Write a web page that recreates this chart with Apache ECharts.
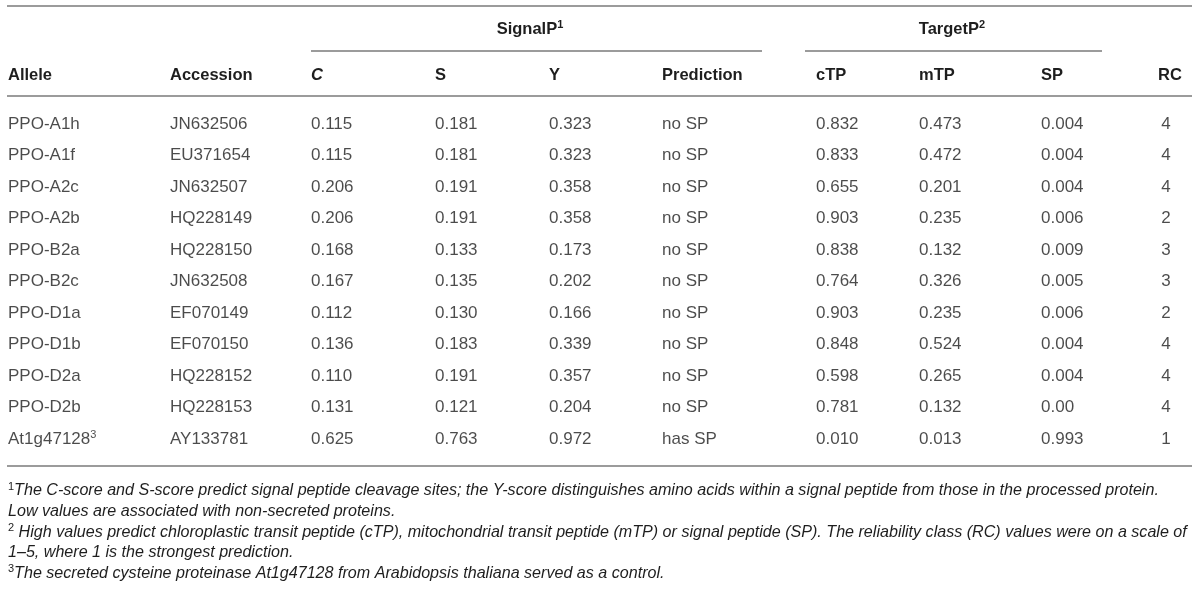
<!DOCTYPE html>
<html>
<head>
<meta charset="utf-8">
<script src="https://cdn.jsdelivr.net/npm/echarts@6/dist/echarts.min.js"></script>
<style>
html, body { margin: 0; padding: 0; background: #fff; }
#table { width: 1200px; height: 590px; }
</style>
</head>
<body>
<div id="table"></div>
<script>
// table values, one array per column
var alleles = ['PPO-A1h', 'PPO-A1f', 'PPO-A2c', 'PPO-A2b', 'PPO-B2a', 'PPO-B2c',
    'PPO-D1a', 'PPO-D1b', 'PPO-D2a', 'PPO-D2b', 'At1g47128'];
var accessions = ['JN632506', 'EU371654', 'JN632507', 'HQ228149', 'HQ228150', 'JN632508',
    'EF070149', 'EF070150', 'HQ228152', 'HQ228153', 'AY133781'];
var cScore = ['0.115', '0.115', '0.206', '0.206', '0.168', '0.167', '0.112', '0.136', '0.110', '0.131', '0.625'];
var sScore = ['0.181', '0.181', '0.191', '0.191', '0.133', '0.135', '0.130', '0.183', '0.191', '0.121', '0.763'];
var yScore = ['0.323', '0.323', '0.358', '0.358', '0.173', '0.202', '0.166', '0.339', '0.357', '0.204', '0.972'];
var prediction = ['no SP', 'no SP', 'no SP', 'no SP', 'no SP', 'no SP', 'no SP', 'no SP', 'no SP', 'no SP', 'has SP'];
var cTP = ['0.832', '0.833', '0.655', '0.903', '0.838', '0.764', '0.903', '0.848', '0.598', '0.781', '0.010'];
var mTP = ['0.473', '0.472', '0.201', '0.235', '0.132', '0.326', '0.235', '0.524', '0.265', '0.132', '0.013'];
var spScore = ['0.004', '0.004', '0.004', '0.006', '0.009', '0.005', '0.006', '0.004', '0.004', '0.00', '0.993'];
var rc = ['4', '4', '4', '2', '3', '3', '2', '4', '4', '4', '1'];
var footnoteMark = { 'At1g47128': '3' };

var columnHeaders = ['Allele', 'Accession', 'C', 'S', 'Y', 'Prediction', 'cTP', 'mTP', 'SP', 'RC'];
var groupHeaders = ['SignalP', 'TargetP'];
var groupMarks = ['1', '2'];
var footnotes = [
    ['1', 'The C-score and S-score predict signal peptide cleavage sites; the Y-score distinguishes amino acids within a signal peptide from those in the processed protein.'],
    ['', 'Low values are associated with non-secreted proteins.'],
    ['2', ' High values predict chloroplastic transit peptide (cTP), mitochondrial transit peptide (mTP) or signal peptide (SP). The reliability class (RC) values were on a scale of'],
    ['', '1\u20135, where 1 is the strongest prediction.'],
    ['3', 'The secreted cysteine proteinase At1g47128 from Arabidopsis thaliana served as a control.']
];

// layout
var colX = [8, 170, 311, 435, 549, 662, 816, 919, 1041, 1166];
var headerX = [8, 170, 311, 435, 549, 662, 816, 919, 1041, 1158];
var columns = [alleles, accessions, cScore, sScore, yScore, prediction, cTP, mTP, spScore, rc];
var font = 'Liberation Sans, Arial, Helvetica, sans-serif';
var textColor = '#1e1e1e';
var ruleColor = '#7a7a7a';

var chart = echarts.init(document.getElementById('table'));

function cellSeries(values, idx) {
    var centered = idx === columns.length - 1;
    return {
        type: 'scatter',
        symbolSize: 0,
        silent: true,
        data: values.map(function (v, i) { return [colX[idx], alleles[i], v]; }),
        label: {
            show: true,
            position: centered ? 'inside' : 'right',
            distance: 0,
            color: textColor,
            fontFamily: font,
            fontSize: 17,
            formatter: function (p) {
                var txt = p.value[2];
                if (footnoteMark[txt]) {
                    return '{t|' + txt + '}{s|' + footnoteMark[txt] + '}';
                }
                return '{t|' + txt + '}';
            },
            rich: {
                t: { fontFamily: font, fontSize: 17, color: textColor, lineHeight: 20 },
                s: { fontFamily: font, fontSize: 11, color: textColor, lineHeight: 12, verticalAlign: 'top' }
            }
        }
    };
}

function line(x1, y, x2) {
    return {
        type: 'line', silent: true,
        shape: { x1: x1, y1: y, x2: x2, y2: y },
        style: { stroke: ruleColor, lineWidth: 1.5 }
    };
}

var graphics = [
    line(7, 6, 1192),
    line(311, 51, 762),
    line(805, 51, 1102),
    line(7, 96, 1192),
    line(7, 466, 1192)
];

var groupCenters = [530, 952];
groupHeaders.forEach(function (g, i) {
    graphics.push({
        type: 'text', silent: true,
        x: groupCenters[i], y: 29,
        style: {
            text: '{b|' + g + '}{s|' + groupMarks[i] + '}',
            align: 'center', verticalAlign: 'middle',
            rich: {
                b: { fontFamily: font, fontWeight: 'bold', fontSize: 16.5, fill: textColor, lineHeight: 20 },
                s: { fontFamily: font, fontWeight: 'bold', fontSize: 11, fill: textColor, lineHeight: 12, verticalAlign: 'top' }
            }
        }
    });
});

columnHeaders.forEach(function (h, i) {
    graphics.push({
        type: 'text', silent: true,
        x: headerX[i], y: 75,
        style: {
            text: h,
            fontFamily: font, fontWeight: 'bold',
            fontStyle: h === 'C' ? 'italic' : 'normal',
            fontSize: 16.5, fill: textColor,
            align: 'left', verticalAlign: 'middle'
        }
    });
});

footnotes.forEach(function (f, i) {
    graphics.push({
        type: 'text', silent: true,
        x: 8, y: 491 + i * 20.6,
        style: {
            text: (f[0] ? '{s|' + f[0] + '}' : '') + '{t|' + f[1] + '}',
            align: 'left', verticalAlign: 'middle',
            rich: {
                t: { fontFamily: font, fontStyle: 'italic', fontSize: 16.1, fill: textColor, lineHeight: 19 },
                s: { fontFamily: font, fontSize: 11, fill: textColor, lineHeight: 11, verticalAlign: 'top' }
            }
        }
    });
});

var option = {
    animation: false,
    backgroundColor: '#fff',
    grid: { left: 0, right: 0, top: 108.25, height: 346.5 },
    xAxis: { type: 'value', min: 0, max: 1200, show: false },
    yAxis: { type: 'category', data: alleles, inverse: true, show: false },
    series: columns.map(cellSeries),
    graphic: graphics
};
chart.setOption(option);
</script>
</body>
</html>
